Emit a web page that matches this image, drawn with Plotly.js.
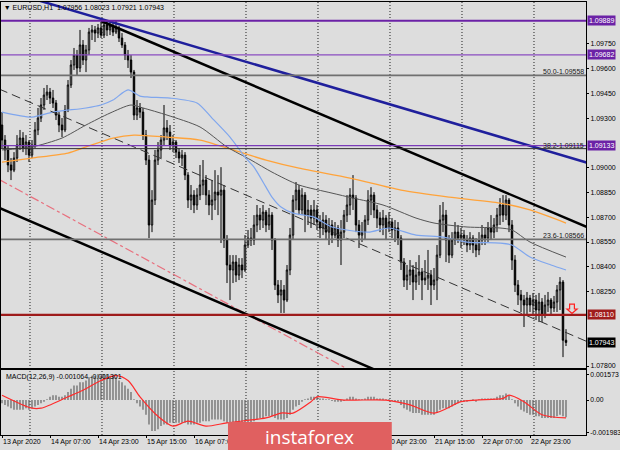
<!DOCTYPE html>
<html><head><meta charset="utf-8">
<script src="https://cdn.plot.ly/plotly-3.0.1.min.js"></script>
<style>html,body{margin:0;padding:0;background:#dddddd;}#chart{width:620px;height:450px;}</style>
</head><body><div id="chart"></div>
<script>
// ---- EURUSD H1 candles (bar 0 = 13 Apr 2020 15:00) ----
const openP = [
1.09258,1.09167,1.09107,1.09016,1.08985,1.09058,1.09137,1.09179,1.09119,1.09155,
1.09076,1.09137,1.09228,1.09300,1.09379,1.09439,1.09457,1.09421,1.09391,1.09318,
1.09258,1.09228,1.09349,1.09500,1.09621,1.09681,1.09603,1.09742,1.09651,1.09712,
1.09820,1.09833,1.09814,1.09845,1.09802,1.09863,1.09833,1.09857,1.09820,1.09845,
1.09784,1.09742,1.09681,1.09651,1.09578,1.09318,1.09361,1.09336,1.09197,1.09046,
1.08653,1.08804,1.09046,1.09107,1.09167,1.09240,1.09215,1.09137,1.09155,1.09094,
1.09058,1.09076,1.08955,1.08804,1.08834,1.08774,1.08834,1.08895,1.08925,1.08834,
1.08774,1.08804,1.08852,1.08834,1.08864,1.08562,1.08411,1.08381,1.08429,1.08350,
1.08411,1.08381,1.08532,1.08574,1.08562,1.08653,1.08713,1.08683,1.08731,1.08653,
1.08713,1.08562,1.08290,1.08230,1.08260,1.08199,1.08381,1.08592,1.08804,1.08864,
1.08744,1.08834,1.08713,1.08744,1.08695,1.08744,1.08671,1.08635,1.08683,1.08610,
1.08653,1.08592,1.08635,1.08562,1.08610,1.08713,1.08774,1.08834,1.08816,1.08653,
1.08592,1.08610,1.08683,1.08804,1.08834,1.08744,1.08695,1.08653,1.08695,1.08635,
1.08671,1.08623,1.08635,1.08574,1.08429,1.08320,1.08350,1.08381,1.08308,1.08350,
1.08369,1.08320,1.08332,1.08350,1.08290,1.08320,1.08471,1.08683,1.08713,1.08562,
1.08471,1.08562,1.08610,1.08574,1.08592,1.08562,1.08532,1.08574,1.08532,1.08502,
1.08562,1.08592,1.08574,1.08635,1.08610,1.08653,1.08713,1.08774,1.08713,1.08804,
1.08653,1.08441,1.08290,1.08230,1.08199,1.08169,1.08211,1.08169,1.08199,1.08139,
1.08187,1.08108,1.08169,1.08199,1.08151,1.08187,1.08260,1.08308,1.07956];
const highP = [
1.09336,1.09197,1.09137,1.09058,1.09094,1.09197,1.09228,1.09215,1.09197,1.09167,
1.09167,1.09276,1.09361,1.09421,1.09482,1.09500,1.09482,1.09470,1.09409,1.09336,
1.09300,1.09379,1.09530,1.09651,1.09724,1.09712,1.09833,1.09772,1.09742,1.09845,
1.09863,1.09857,1.09869,1.09881,1.09899,1.09893,1.09881,1.09881,1.09893,1.09857,
1.09814,1.09760,1.09712,1.09681,1.09591,1.09409,1.09391,1.09361,1.09228,1.09076,
1.08864,1.09107,1.09155,1.09197,1.09379,1.09288,1.09258,1.09197,1.09167,1.09119,
1.09107,1.09094,1.08973,1.08895,1.08864,1.08876,1.09016,1.09046,1.08955,1.08864,
1.08925,1.08985,1.08955,1.09003,1.08895,1.08592,1.08471,1.08471,1.08471,1.08453,
1.08453,1.08592,1.08623,1.08635,1.08713,1.08774,1.08756,1.08774,1.08744,1.08756,
1.08731,1.08574,1.08320,1.08320,1.08290,1.08411,1.08635,1.08834,1.08913,1.08895,
1.08876,1.08852,1.08804,1.08774,1.08804,1.08774,1.08713,1.08731,1.08713,1.08695,
1.08683,1.08671,1.08653,1.08683,1.08744,1.08834,1.08876,1.08955,1.08834,1.08683,
1.08671,1.08713,1.08864,1.08882,1.08852,1.08774,1.08731,1.08744,1.08713,1.08731,
1.08695,1.08683,1.08671,1.08592,1.08453,1.08411,1.08441,1.08411,1.08429,1.08471,
1.08393,1.08441,1.08502,1.08381,1.08393,1.08532,1.08774,1.08792,1.08744,1.08592,
1.08610,1.08671,1.08653,1.08635,1.08623,1.08592,1.08610,1.08592,1.08574,1.08610,
1.08653,1.08635,1.08671,1.08713,1.08695,1.08756,1.08816,1.08834,1.08834,1.08816,
1.08683,1.08471,1.08320,1.08260,1.08230,1.08248,1.08230,1.08242,1.08230,1.08242,
1.08211,1.08230,1.08248,1.08211,1.08224,1.08290,1.08338,1.08320,1.08023];
const lowP = [
1.09119,1.09046,1.08973,1.08925,1.08973,1.09034,1.09107,1.09094,1.09076,1.09034,
1.09058,1.09119,1.09197,1.09276,1.09349,1.09409,1.09385,1.09361,1.09288,1.09215,
1.09185,1.09215,1.09336,1.09482,1.09591,1.09560,1.09578,1.09621,1.09578,1.09681,
1.09772,1.09760,1.09784,1.09784,1.09784,1.09796,1.09802,1.09796,1.09808,1.09760,
1.09724,1.09651,1.09603,1.09542,1.09288,1.09288,1.09300,1.09167,1.09016,1.08574,
1.08610,1.08774,1.09016,1.09058,1.09137,1.09167,1.09107,1.09094,1.09058,1.09028,
1.09010,1.08925,1.08756,1.08744,1.08725,1.08744,1.08804,1.08834,1.08774,1.08713,
1.08683,1.08744,1.08713,1.08544,1.08514,1.08302,1.08199,1.08302,1.08308,1.08320,
1.08332,1.08369,1.08514,1.08526,1.08532,1.08610,1.08623,1.08635,1.08610,1.08623,
1.08502,1.08260,1.08181,1.08121,1.08121,1.08187,1.08350,1.08562,1.08744,1.08713,
1.08713,1.08610,1.08653,1.08635,1.08653,1.08623,1.08574,1.08592,1.08562,1.08532,
1.08544,1.08574,1.08520,1.08411,1.08574,1.08671,1.08713,1.08744,1.08610,1.08514,
1.08550,1.08562,1.08653,1.08713,1.08695,1.08635,1.08610,1.08592,1.08562,1.08610,
1.08574,1.08550,1.08532,1.08381,1.08278,1.08260,1.08290,1.08199,1.08260,1.08290,
1.08199,1.08290,1.08260,1.08169,1.08260,1.08199,1.08453,1.08610,1.08429,1.08423,
1.08453,1.08532,1.08544,1.08514,1.08532,1.08489,1.08502,1.08483,1.08459,1.08471,
1.08532,1.08532,1.08550,1.08562,1.08574,1.08610,1.08653,1.08671,1.08683,1.08610,
1.08381,1.08248,1.08169,1.08127,1.08036,1.08108,1.08127,1.08102,1.08078,1.08066,
1.08066,1.08090,1.08127,1.08108,1.08127,1.08127,1.08139,1.07854,1.07921];
const closeP = [
1.09167,1.09107,1.09016,1.08985,1.09058,1.09137,1.09179,1.09119,1.09155,1.09076,
1.09137,1.09228,1.09300,1.09379,1.09439,1.09457,1.09421,1.09391,1.09318,1.09258,
1.09228,1.09349,1.09500,1.09621,1.09681,1.09603,1.09742,1.09651,1.09712,1.09820,
1.09833,1.09814,1.09845,1.09802,1.09863,1.09833,1.09857,1.09820,1.09845,1.09784,
1.09742,1.09681,1.09651,1.09578,1.09318,1.09361,1.09336,1.09197,1.09046,1.08653,
1.08804,1.09046,1.09107,1.09167,1.09240,1.09215,1.09137,1.09155,1.09094,1.09058,
1.09076,1.08955,1.08804,1.08834,1.08774,1.08834,1.08895,1.08925,1.08834,1.08774,
1.08804,1.08852,1.08834,1.08864,1.08562,1.08411,1.08381,1.08429,1.08350,1.08411,
1.08381,1.08532,1.08574,1.08562,1.08653,1.08713,1.08683,1.08731,1.08653,1.08713,
1.08562,1.08290,1.08230,1.08260,1.08199,1.08381,1.08592,1.08804,1.08864,1.08744,
1.08834,1.08713,1.08744,1.08695,1.08744,1.08671,1.08635,1.08683,1.08610,1.08653,
1.08592,1.08635,1.08562,1.08610,1.08713,1.08774,1.08834,1.08816,1.08653,1.08592,
1.08610,1.08683,1.08804,1.08834,1.08744,1.08695,1.08653,1.08695,1.08635,1.08671,
1.08623,1.08635,1.08574,1.08429,1.08320,1.08350,1.08381,1.08308,1.08350,1.08369,
1.08320,1.08332,1.08350,1.08290,1.08320,1.08471,1.08683,1.08713,1.08562,1.08471,
1.08562,1.08610,1.08574,1.08592,1.08562,1.08532,1.08574,1.08532,1.08502,1.08562,
1.08592,1.08574,1.08635,1.08610,1.08653,1.08713,1.08774,1.08713,1.08804,1.08653,
1.08441,1.08290,1.08230,1.08199,1.08169,1.08211,1.08169,1.08199,1.08139,1.08187,
1.08108,1.08169,1.08199,1.08151,1.08187,1.08260,1.08308,1.07956,1.07943];

// ---- Moving averages (traced vertices: bar index, price) ----
const maBlueX = [0,10,17,28,33,37,42,46,49,56,65,70,76,81,84,88,90,93,97,104,110,122,129,138,147,155,166,170,176,183,188];
const maBlueY = [1.09336,1.09306,1.09336,1.09361,1.09379,1.09409,1.09470,1.09433,1.09427,1.09421,1.09391,1.09300,1.09185,1.09064,1.09003,1.08882,1.08822,1.08762,1.08725,1.08701,1.08641,1.08610,1.08635,1.08592,1.08580,1.08550,1.08544,1.08532,1.08459,1.08411,1.08381];
const maGrayX = [0,10,20,28,36,43,47,55,66,75,83,90,99,110,117,127,138,144,155,166,170,176,188];
const maGrayY = [1.09107,1.09125,1.09179,1.09258,1.09330,1.09379,1.09361,1.09318,1.09246,1.09125,1.09046,1.08973,1.08895,1.08846,1.08816,1.08774,1.08695,1.08665,1.08641,1.08635,1.08623,1.08550,1.08459];
const maOrangeX = [0,10,22,28,37,44,55,66,77,88,99,116,133,149,166,176,188];
const maOrangeY = [1.09034,1.09058,1.09088,1.09125,1.09179,1.09197,1.09185,1.09167,1.09107,1.09046,1.08997,1.08937,1.08864,1.08822,1.08786,1.08744,1.08665];

// ---- Trend lines (bar index, price) ----
const tlBlueX = [5,195],   tlBlueY = [1.10050,1.09030];
const tlTopX = [33,195],   tlTopY = [1.09887,1.08641];
const tlLowX = [-1,130],   tlLowY = [1.08758,1.07733];
const tlPinkX = [-1,120],  tlPinkY = [1.08929,1.07734];
const tlMidX = [-1,195],   tlMidY = [1.09476,1.07948];

// ---- Horizontal levels ----
const levelVals = [1.09889,1.09682,1.09558,1.09133,1.09115,1.08566,1.08110];
const fibText = ['50.0-1.09558','38.2-1.09115','23.6-1.08566'];
const fibVals = [1.09558,1.09115,1.08566];
const boxVals = [1.09889,1.09682,1.09133,1.08110,1.07943];
const boxText = ['1.09889','1.09682','1.09133','1.08110','1.07943'];

// ---- MACD(12,26,9) ----
const macdMain = [
-0.0002,-0.0003,-0.0004,-0.0005,-0.0006,-0.0006,-0.0006,-0.0006,-0.0005,-0.0006,
-0.0005,-0.0004,-0.0003,-0.0002,-0.0001,0.00005,0.0002,0.0003,0.0003,0.0002,
0.0002,0.0003,0.0005,0.0007,0.0009,0.0009,0.0011,0.0011,0.0012,0.0014,
0.0015,0.0015,0.0016,0.0015,0.0016,0.0016,0.0015,0.0015,0.0014,0.0012,
0.0011,0.0009,0.0007,0.0005,0.00005,-0.0002,-0.0004,-0.0006,-0.0009,-0.0015,
-0.0019,-0.0019,-0.0018,-0.0016,-0.0015,-0.0015,-0.0014,-0.0014,-0.0014,-0.0014,
-0.0014,-0.0014,-0.0015,-0.0015,-0.0015,-0.0014,-0.0014,-0.0013,-0.0013,-0.0013,
-0.0012,-0.0012,-0.0012,-0.0012,-0.0013,-0.0014,-0.0015,-0.0016,-0.0016,-0.0016,
-0.0016,-0.0015,-0.0014,-0.0014,-0.0013,-0.0012,-0.0011,-0.0011,-0.0010,-0.0010,
-0.0010,-0.0011,-0.0012,-0.0012,-0.0012,-0.0011,-0.0009,-0.0006,-0.0004,-0.0003,
-0.0001,0.00005,0.0001,0.0002,0.0002,0.0002,0.0001,0.0001,0.00005,0.00005,
-0.00005,-0.0001,-0.0001,-0.0001,-0.00005,0.0001,0.0002,0.0002,0.0001,0.00005,
0.00005,0.0001,0.0002,0.0002,0.0002,0.0001,0.0001,0.0001,0.00005,0.00005,
-0.00005,-0.0001,-0.0001,-0.0003,-0.0005,-0.0006,-0.0007,-0.0008,-0.0008,-0.0008,
-0.0009,-0.0009,-0.0009,-0.0009,-0.0009,-0.0008,-0.0006,-0.0005,-0.0005,-0.0005,
-0.0004,-0.0003,-0.0002,-0.0001,-0.0001,-0.0001,-0.00005,0.00005,-0.0001,0.00005,
0.0001,0.0001,0.0001,0.0001,0.0001,0.0002,0.0003,0.0003,0.0004,0.0003,
0.00005,-0.0002,-0.0004,-0.0006,-0.0007,-0.0008,-0.0009,-0.0009,-0.0010,-0.0010,
-0.0011,-0.0011,-0.0011,-0.0011,-0.0011,-0.0010,-0.0009,-0.0010,-0.001064];
const macdSigX = [0,10,13,22,27,33,38,42,46,52,57,62,68,75,88,93,97,103,105,114,128,136,144,153,158,167,169,174,180,188];
const macdSigY = [0.0003,-0.0005,-0.0005,0.0002,0.0006,0.0012,0.0015,0.0012,0.0002,-0.0010,-0.0016,-0.0013,-0.0016,-0.0014,-0.0011,-0.0008,-0.0008,-0.0001,0.0002,0.0000,0.0000,-0.0003,-0.0008,-0.0001,0.0000,0.0001,0.0003,-0.0001,-0.0009,-0.0011];
const macdTicks = [0.001573,0,-0.001983];
const macdTickText = ['0.001573','0.00','-0.001983'];

// ---- Time axis (labels fully hidden by the watermark are omitted) ----
const timeTickIdx = [0,16,32,48,64,128,144,160,176];
const timeTickText = ['13 Apr 2020','14 Apr 07:00','14 Apr 23:00','15 Apr 15:00','16 Apr 07:00','20 Apr 23:00','21 Apr 15:00','22 Apr 07:00','22 Apr 23:00'];
const gridIdx = [9.33,33.33,57.33,81.33,105.33,129.33,153.33,177.33];
const priceTicks = [1.078,1.0825,1.084,1.0855,1.087,1.0885,1.09,1.093,1.0945,1.096,1.0975];

const barIdx = openP.map((_, i) => i);
const FONT = 'Liberation Sans, Arial, sans-serif';
const PURPLE = '#6B22A6', DRED = '#A01C1C';

const traces = [
  {type:'candlestick', x:barIdx, open:openP, high:highP, low:lowP, close:closeP, xaxis:'x', yaxis:'y',
   increasing:{line:{color:'#000', width:1}, fillcolor:'#ffffff'},
   decreasing:{line:{color:'#000', width:1}, fillcolor:'#000000'}, whiskerwidth:0, hoverinfo:'skip'},
  {type:'scatter', mode:'lines', x:maOrangeX, y:maOrangeY, line:{color:'#FFA33A', width:1.3, shape:'spline', smoothing:0.7}},
  {type:'scatter', mode:'lines', x:maGrayX, y:maGrayY, line:{color:'#555555', width:1, shape:'spline', smoothing:0.7}},
  {type:'scatter', mode:'lines', x:maBlueX, y:maBlueY, line:{color:'#7FA6EE', width:1.2, shape:'spline', smoothing:0.7}},
  {type:'scatter', mode:'lines', x:tlMidX, y:tlMidY, line:{color:'#333', width:1, dash:'9px,5px'}},
  {type:'scatter', mode:'lines', x:tlPinkX, y:tlPinkY, line:{color:'#E8707E', width:1.2, dash:'dashdot'}},
  {type:'scatter', mode:'lines', x:tlLowX, y:tlLowY, line:{color:'#000', width:2.5}},
  {type:'scatter', mode:'lines', x:tlTopX, y:tlTopY, line:{color:'#000', width:2.5}},
  {type:'scatter', mode:'lines', x:tlBlueX, y:tlBlueY, line:{color:'#1F1F9C', width:2.5}},
  {type:'bar', x:barIdx, y:macdMain, xaxis:'x2', yaxis:'y2', width:0.35, marker:{color:'#505050', line:{width:0}}},
  {type:'scatter', mode:'lines', x:macdSigX, y:macdSigY, xaxis:'x2', yaxis:'y2', line:{color:'#FF2B2B', width:1.2, shape:'spline', smoothing:0.8}}
];

const lvlColors = [PURPLE,'#8A4CC0','#707070','#7A3AB8','#303030','#707070','#9E1B1B'];
const lvlWidths = [2,1.2,1.6,1.2,1,1.6,2.2];
const shapes = [];
gridIdx.forEach(g => shapes.push({type:'line', xref:'x', yref:'paper', x0:g, x1:g, y0:0, y1:1, layer:'below', line:{color:'#222', width:1, dash:'1px,2px'}}));
levelVals.forEach((v,k) => shapes.push({type:'line', xref:'paper', yref:'y', x0:0, x1:1, y0:v, y1:v, layer:'above', line:{color:lvlColors[k], width:lvlWidths[k]}}));
// instaforex watermark box
shapes.push({type:'rect', xref:'paper', yref:'paper', x0:0.388, x1:0.668, y0:-0.04, y1:0.030, layer:'above', fillcolor:'#E06060', line:{width:0}});
// current-signal arrow (outlined down arrow above the 1.08110 level)
shapes.push({type:'path', xref:'x', yref:'y', layer:'above',
  path:'M 189.2 1.08175 L 190.8 1.08175 L 190.8 1.08145 L 191.7 1.08145 L 190 1.08118 L 188.3 1.08145 L 189.2 1.08145 Z',
  fillcolor:'rgba(0,0,0,0)', line:{color:'#FF2020', width:1.2}});

const boxColors = [PURPLE, PURPLE, PURPLE, DRED, '#000000'];
const annotations = [];
boxVals.forEach((v,k) => annotations.push({xref:'paper', yref:'y', x:1, y:v, xanchor:'left', yanchor:'middle', xshift:1, text:boxText[k], showarrow:false, bgcolor:boxColors[k], borderpad:1, font:{family:FONT, size:7, color:'#ffffff'}}));
fibVals.forEach((v,k) => annotations.push({xref:'paper', yref:'y', x:1, y:v, xanchor:'right', yanchor:'bottom', text:fibText[k], showarrow:false, font:{family:FONT, size:7, color:'#202020'}, yshift:-2}));
annotations.push({xref:'paper', yref:'paper', x:0, y:0.147, xanchor:'left', yanchor:'top', xshift:3, text:'MACD(12,26,9) -0.001064 -0.001301', showarrow:false, font:{family:FONT, size:7, color:'#000'}});
annotations.push({xref:'paper', yref:'paper', x:0.528, y:-0.004, xanchor:'center', yanchor:'middle', text:'instaforex', showarrow:false, font:{family:'Open Sans, sans-serif', size:19, color:'#ffffff'}});

const layout = {
  width:620, height:450,
  margin:{l:1, r:34, t:2, b:15, pad:0},
  paper_bgcolor:'#dddddd', plot_bgcolor:'#dddddd',
  showlegend:false, hovermode:false, dragmode:false,
  font:{family:FONT, size:7, color:'#000'},
  title:{text:'▼ EURUSD,H1  1.07956 1.08023 1.07921 1.07943', x:0.006, xanchor:'left', y:0.983, yanchor:'middle', font:{family:FONT, size:7, color:'#000'}},
  xaxis:{domain:[0,1], anchor:'y', range:[-0.333,194.667], showticklabels:false, ticks:'', showgrid:false, zeroline:false,
         showline:true, mirror:true, linecolor:'#000', linewidth:1, rangeslider:{visible:false}, fixedrange:true},
  xaxis2:{domain:[0,1], anchor:'y2', matches:'x', range:[-0.333,194.667], tickmode:'array', tickvals:timeTickIdx, ticktext:timeTickText,
          tickangle:0, ticks:'outside', ticklen:2, tickcolor:'#000', ticklabelposition:'outside right', showgrid:false, zeroline:false,
          showline:true, mirror:true, linecolor:'#000', linewidth:1, tickfont:{family:FONT, size:7, color:'#000'}, fixedrange:true},
  yaxis:{domain:[0.1547,1], anchor:'x', side:'right', range:[1.07788,1.10002], tickmode:'array', tickvals:priceTicks, tickformat:'.5f',
         ticks:'outside', ticklen:2, tickcolor:'#000', showgrid:false, zeroline:false, showline:true, mirror:true, linecolor:'#000', linewidth:1,
         tickfont:{family:FONT, size:7, color:'#000'}, fixedrange:true},
  yaxis2:{domain:[0,0.1501], anchor:'x2', side:'right', range:[-0.00215,0.00185], tickmode:'array', tickvals:macdTicks, ticktext:macdTickText,
          ticks:'outside', ticklen:2, tickcolor:'#000', showgrid:false, zeroline:false, showline:true, mirror:true, linecolor:'#000', linewidth:1,
          tickfont:{family:FONT, size:6.8, color:'#000'}, fixedrange:true},
  shapes:shapes, annotations:annotations
};

Plotly.newPlot('chart', traces, layout, {displayModeBar:false, staticPlot:true});
</script></body></html>
